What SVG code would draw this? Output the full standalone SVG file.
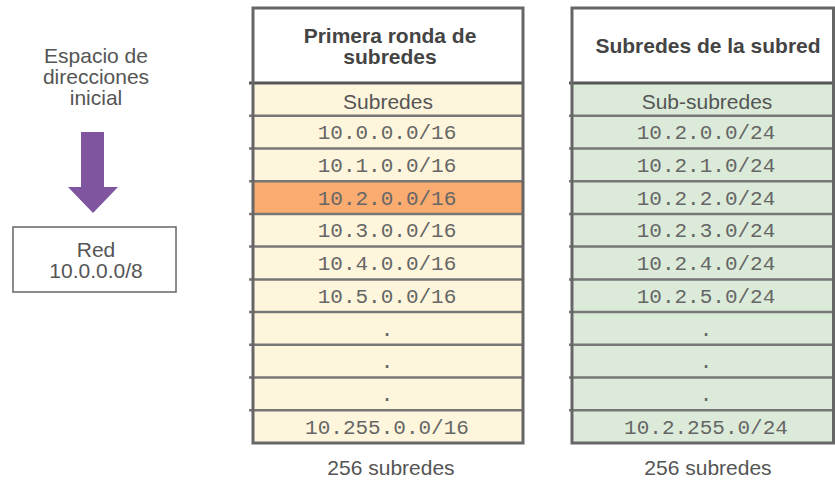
<svg xmlns="http://www.w3.org/2000/svg" width="835" height="483" viewBox="0 0 835 483">
<style>
.s{font-family:"Liberation Sans",Arial,sans-serif;font-size:21px;fill:#555;text-anchor:middle}
.h{font-family:"Liberation Sans",Arial,sans-serif;font-size:21px;font-weight:bold;fill:#444;text-anchor:middle}
.m{font-family:"Liberation Mono","Courier New",monospace;font-size:21px;fill:#666;text-anchor:middle}
.y{fill:#fef6dc}
.g{fill:#dcebd9}
.o{fill:#f9ab70}
.ln{stroke:#777;stroke-width:2.5;fill:none}
.out{stroke:#666;stroke-width:3;fill:none}
</style>
<g id="label-inicial">
<text class="s" x="96" y="63">Espacio de</text>
<text class="s" x="96" y="84">direcciones</text>
<text class="s" x="96" y="105">inicial</text>
</g>
<g id="connectors">
<polygon points="81,132 104,132 104,187 118,187 93,213 68,187 81,187" fill="#7e559e"/>
</g>
<g id="red">
<rect x="13" y="227" width="163" height="65" fill="#fff" stroke="#666" stroke-width="1.5"/>
<text class="s" x="96" y="257">Red</text>
<text class="s" x="96" y="278">10.0.0.0/8</text>
</g>
<g id="tabla-subredes">
<rect x="253" y="8" width="270" height="75" fill="#fff"/>
<rect x="253" y="83" width="270" height="360" class="y"/>
<rect x="253" y="181.2" width="270" height="32.7" class="o"/>
<g class="ln">
<line x1="249" y1="83" x2="523" y2="83" stroke="#555" stroke-width="3"/>
<line x1="249" y1="115.7" x2="523" y2="115.7"/>
<line x1="249" y1="148.5" x2="523" y2="148.5"/>
<line x1="249" y1="181.2" x2="523" y2="181.2"/>
<line x1="249" y1="213.9" x2="523" y2="213.9"/>
<line x1="249" y1="246.6" x2="523" y2="246.6"/>
<line x1="249" y1="279.4" x2="523" y2="279.4"/>
<line x1="249" y1="312.1" x2="523" y2="312.1"/>
<line x1="249" y1="344.8" x2="523" y2="344.8"/>
<line x1="249" y1="377.6" x2="523" y2="377.6"/>
<line x1="249" y1="410.3" x2="523" y2="410.3"/>
</g>
<rect x="253" y="8" width="270" height="435" class="out"/>
<text class="h" x="390" y="43">Primera ronda de</text>
<text class="h" x="390" y="64">subredes</text>
<text class="s" x="388" y="109">Subredes</text>
<text class="m" x="387" y="139.2">10.0.0.0/16</text>
<text class="m" x="387" y="172">10.1.0.0/16</text>
<text class="m" x="387" y="204.7">10.2.0.0/16</text>
<text class="m" x="387" y="237.4">10.3.0.0/16</text>
<text class="m" x="387" y="270.1">10.4.0.0/16</text>
<text class="m" x="387" y="302.9">10.5.0.0/16</text>
<text class="m" x="387" y="335.6">.</text>
<text class="m" x="387" y="368.3">.</text>
<text class="m" x="387" y="401.1">.</text>
<text class="m" x="387" y="433.8">10.255.0.0/16</text>
<text class="s" x="391" y="475">256 subredes</text>
</g>
<g id="tabla-subsubredes">
<rect x="572" y="8" width="262" height="75" fill="#fff"/>
<rect x="572" y="83" width="262" height="360" class="g"/>
<g class="ln">
<line x1="569" y1="83" x2="834" y2="83" stroke="#555" stroke-width="3"/>
<line x1="569" y1="115.7" x2="834" y2="115.7"/>
<line x1="569" y1="148.5" x2="834" y2="148.5"/>
<line x1="569" y1="181.2" x2="834" y2="181.2"/>
<line x1="569" y1="213.9" x2="834" y2="213.9"/>
<line x1="569" y1="246.6" x2="834" y2="246.6"/>
<line x1="569" y1="279.4" x2="834" y2="279.4"/>
<line x1="569" y1="312.1" x2="834" y2="312.1"/>
<line x1="569" y1="344.8" x2="834" y2="344.8"/>
<line x1="569" y1="377.6" x2="834" y2="377.6"/>
<line x1="569" y1="410.3" x2="834" y2="410.3"/>
</g>
<rect x="572" y="8" width="261.5" height="435" class="out"/>
<text class="h" x="708" y="53">Subredes de la subred</text>
<text class="s" x="707" y="109">Sub-subredes</text>
<text class="m" x="706" y="139.2">10.2.0.0/24</text>
<text class="m" x="706" y="172">10.2.1.0/24</text>
<text class="m" x="706" y="204.7">10.2.2.0/24</text>
<text class="m" x="706" y="237.4">10.2.3.0/24</text>
<text class="m" x="706" y="270.1">10.2.4.0/24</text>
<text class="m" x="706" y="302.9">10.2.5.0/24</text>
<text class="m" x="706" y="335.6">.</text>
<text class="m" x="706" y="368.3">.</text>
<text class="m" x="706" y="401.1">.</text>
<text class="m" x="706" y="433.8">10.2.255.0/24</text>
<text class="s" x="708" y="475">256 subredes</text>
</g>
</svg>
